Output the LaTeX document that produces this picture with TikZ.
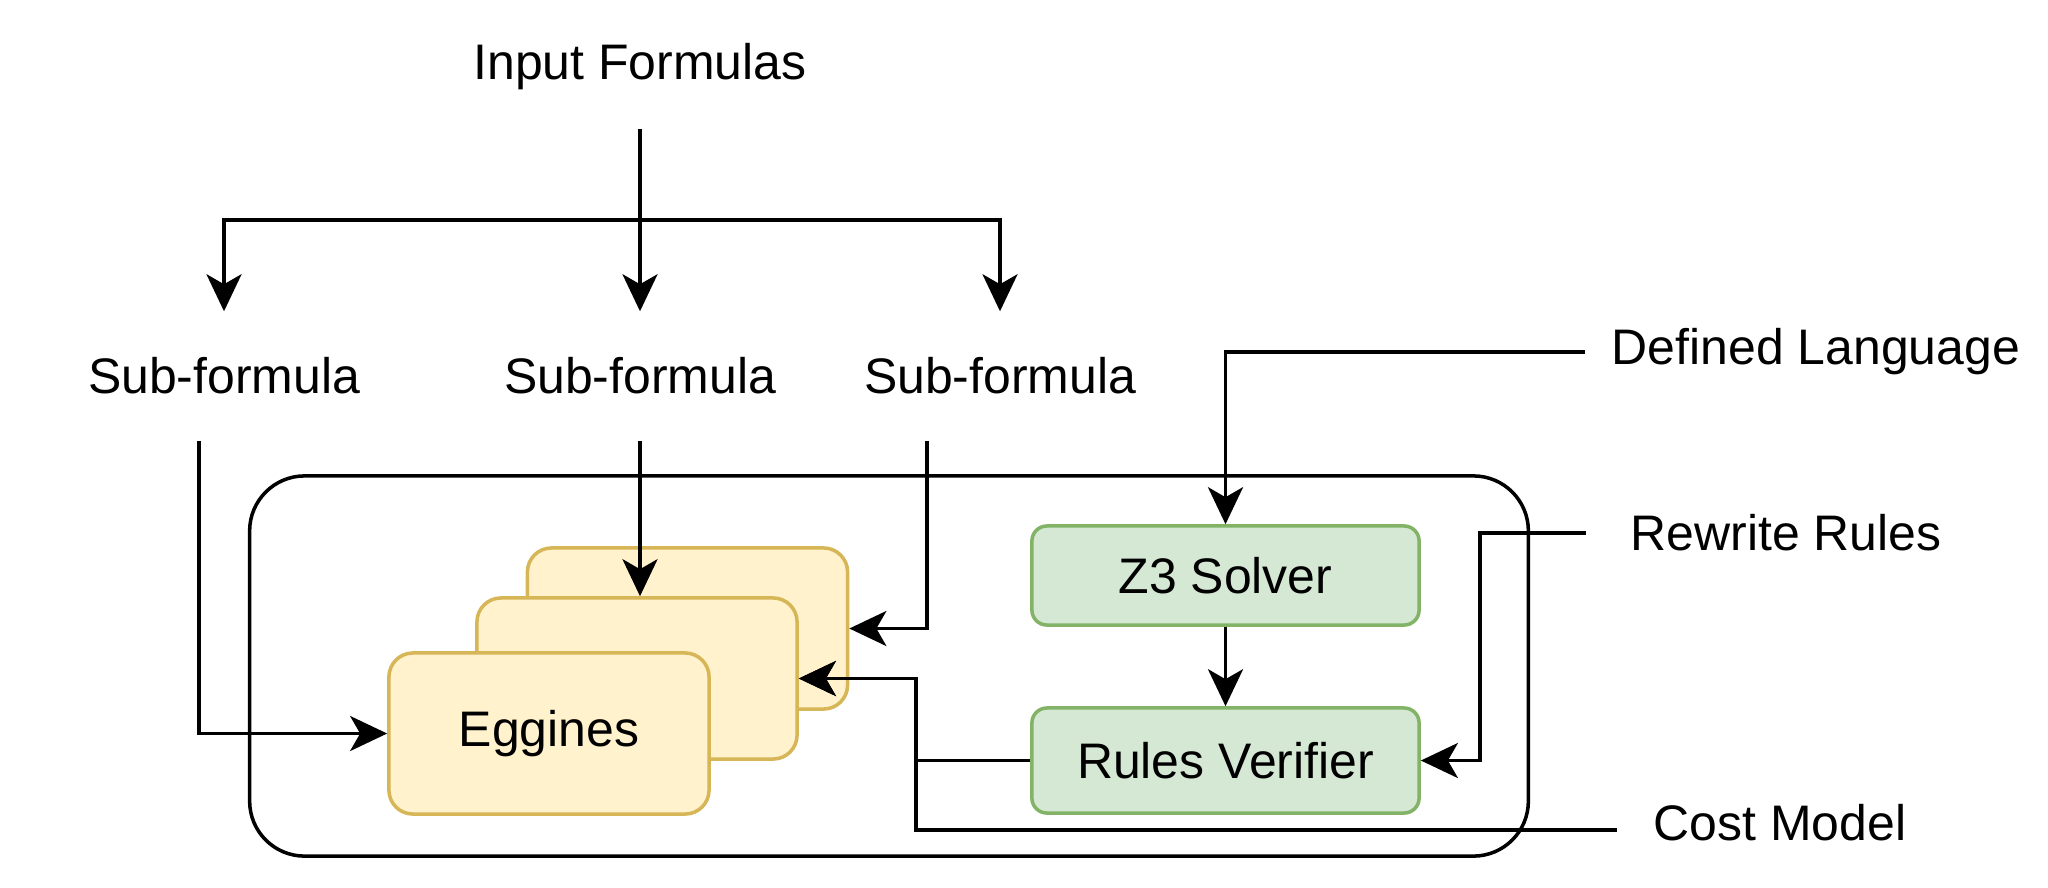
\documentclass[tikz,border=0pt]{standalone}
\usepackage{fontspec}
\setmainfont{Liberation Sans}
\usepackage{xcolor}
\usetikzlibrary{calc, positioning, arrows.meta}
\definecolor{eggdraw}{HTML}{D6B656}
\definecolor{eggfill}{HTML}{FFF2CC}
\definecolor{solvdraw}{HTML}{82B366}
\definecolor{solvfill}{HTML}{D5E8D4}
\tikzset{
    txt/.style={font=\fontsize{14.2pt}{17pt}\selectfont, inner sep=0pt, align=center},
    engine/.style={rectangle, draw=eggdraw, line width=1pt, fill=eggfill, rounded corners=0.24cm, minimum width=3.2cm, minimum height=1.61cm, inner sep=0pt, font=\fontsize{14.2pt}{17pt}\selectfont},
    solver/.style={rectangle, draw=solvdraw, line width=1pt, fill=solvfill, rounded corners=0.15cm, minimum width=3.87cm, inner sep=0pt, font=\fontsize{14.2pt}{17pt}\selectfont},
    frame/.style={rectangle, draw=black, line width=1pt, rounded corners=0.55cm, inner sep=0pt},
    arrow/.style={-{Stealth[length=0.37cm, width=0.35cm, inset=0.1cm]}, line width=1pt}
}

\begin{document}
\begin{tikzpicture}[x=0.01cm, y=-0.01cm]
    \useasboundingbox (0,0) rectangle (2048,887);

    % Container
    \node[frame, minimum width=12.78cm, minimum height=3.8cm] (core) at (889,666) {};

    % Inputs
    \node[txt, minimum height=1.22cm] (inp) at (640,67) {Input Formulas};
    \node[txt, minimum height=1.28cm] (sub1) at (224,376) {Sub-formula};
    \node[txt, minimum height=1.28cm] (sub2) at (640,376) {Sub-formula};
    \node[txt, minimum height=1.28cm] (sub3) at (1000,376) {Sub-formula};
    \coordinate (split) at (640,220);

    % Engines, back to front
    \node[engine] (eng3) at (687.5,628.5) {};
    \node[engine] (eng2) at (637,678.5) {};
    \node[engine] (eng1) at (549,733.5) {Eggines};

    % Verification
    \node[solver, minimum height=0.99cm] (z3) at (1225.5,575.5) {Z3 Solver};
    \node[solver, minimum height=1.05cm] (rv) at (1225.5,760.5) {Rules Verifier};

    % Side inputs
    \node[txt, minimum width=4.6cm] (deflang) at (1816,352) {Defined Language};
    \node[txt, minimum width=3.98cm] (rw) at (1786,533) {Rewrite Rules};
    \node[txt, minimum width=3.24cm] (cost) at (1780,823) {Cost Model};

    % Connectors
    \draw[arrow] (inp.south) -- (split) -| (sub1.north);
    \draw[arrow] (inp.south) -- (sub2.north);
    \draw[arrow] (inp.south) -- (split) -| (sub3.north);

    \draw[arrow] ([xshift=-0.25cm]sub1.south) |- (eng1.west);
    \draw[arrow] (sub2.south) -- (sub2.south |- eng2.north);
    \draw[arrow] ([xshift=-0.73cm]sub3.south) |- (eng3.east);

    \draw[arrow] (deflang.west) -| (z3.north);
    \draw[arrow] (z3) -- (rv);
    \draw[arrow] (rw.west) -| ([xshift=0.59cm]rv.east) -- (rv.east);
    \draw[arrow] (rv.west) -| ([xshift=1.17cm]eng2.east) -- (eng2.east);
    \draw[arrow] ([yshift=-0.07cm]cost.west) -| ([xshift=1.17cm]eng2.east) -- (eng2.east);
\end{tikzpicture}
\end{document}
